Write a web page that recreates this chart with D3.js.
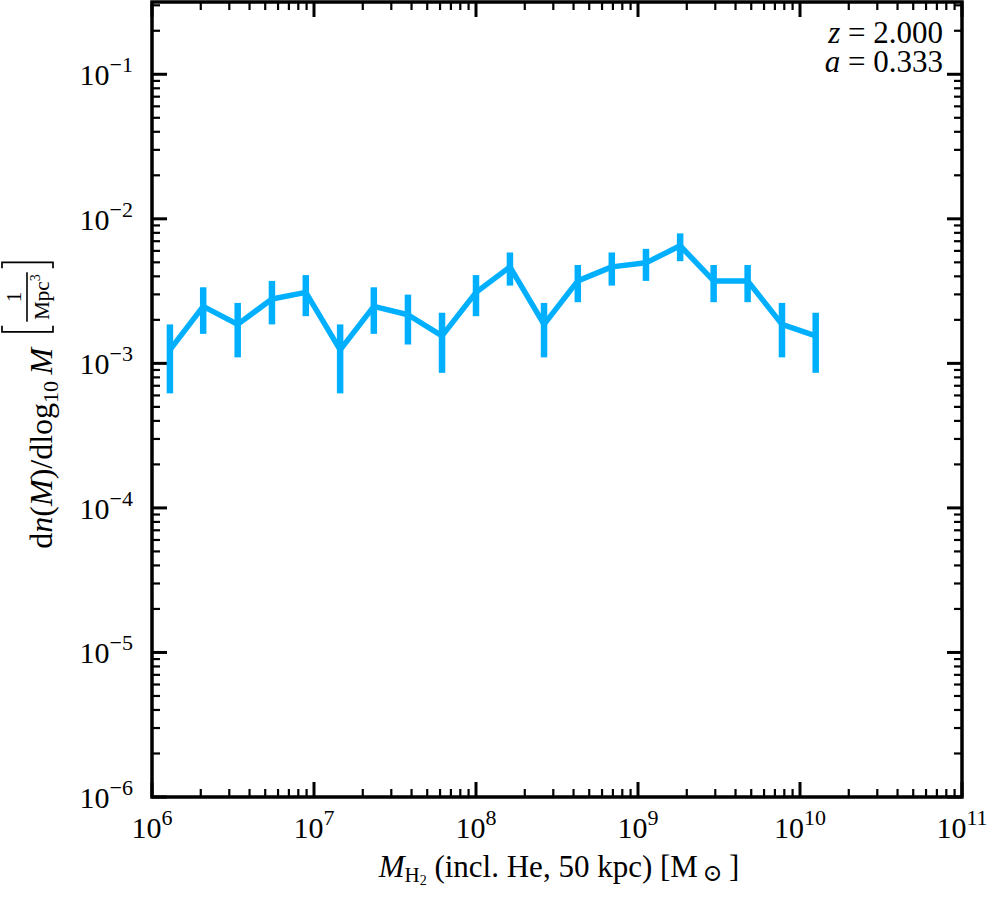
<!DOCTYPE html>
<html>
<head>
<meta charset="utf-8">
<script src="https://cdn.jsdelivr.net/npm/d3@7"></script>
<style>
  body { margin: 0; background: #fff; }
  svg text { font-family: "Liberation Serif", "DejaVu Serif", serif; fill: #000; }
</style>
</head>
<body>
<div id="chart"></div>
<script>
// bin centres (mass) and mass function values
const masses = [1.29e6, 2.07e6, 3.38e6, 5.5e6, 8.9e6, 1.45e7, 2.34e7, 3.8e7, 6.17e7, 1.0e8,
                1.62e8, 2.63e8, 4.25e8, 6.89e8, 1.12e9, 1.82e9, 2.93e9, 4.75e9, 7.74e9, 1.25e10];
const values = [1.24e-3, 2.48e-3, 1.86e-3, 2.79e-3, 3.10e-3, 1.24e-3, 2.48e-3, 2.17e-3, 1.55e-3, 3.10e-3,
                4.65e-3, 1.86e-3, 3.72e-3, 4.65e-3, 4.96e-3, 6.51e-3, 3.72e-3, 3.72e-3, 1.86e-3, 1.55e-3];
const errors = [0.62e-3, 0.88e-3, 0.76e-3, 0.93e-3, 0.98e-3, 0.62e-3, 0.88e-3, 0.82e-3, 0.69e-3, 0.98e-3,
                1.20e-3, 0.76e-3, 1.07e-3, 1.20e-3, 1.24e-3, 1.42e-3, 1.07e-3, 1.07e-3, 0.76e-3, 0.69e-3];

const xTickExps = [6, 7, 8, 9, 10, 11];
const yTickExps = [-6, -5, -4, -3, -2, -1];
const annotations = [["z", "2.000"], ["a", "0.333"]];

const W = 996, H = 900;
const margin = { top: 2, right: 34, bottom: 103, left: 152 };
const width = W - margin.left - margin.right,
  height = H - margin.top - margin.bottom;
const color = "#00b0ff";

const svg = d3.select("#chart").append("svg")
  .attr("width", W).attr("height", H);

const g = svg.append("g")
  .attr("transform", `translate(${margin.left}, ${margin.top})`);

const x = d3.scaleLog().domain([1e6, 1e11]).range([0, width]);
const y = d3.scaleLog().domain([1e-6, Math.pow(10, -0.5)]).range([height, 0]);

// minor + major tick positions
function logTicks(lo, hi) {
  const out = [];
  for (let e = lo; e < hi; e++) {
    for (let m = 1; m < 10; m++) out.push({ v: m * Math.pow(10, e), major: m === 1 });
  }
  out.push({ v: Math.pow(10, hi), major: true });
  return out;
}
const xt = logTicks(6, 11);
const yt = logTicks(-6, 0).filter(d => d.v <= y.domain()[1]);

const majLen = 15, minLen = 8;
const ticks = g.append("g").attr("stroke", "#000");
// bottom + top
ticks.selectAll(".xb").data(xt).join("line")
  .attr("x1", d => x(d.v)).attr("x2", d => x(d.v))
  .attr("y1", height).attr("y2", d => height - (d.major ? majLen : minLen))
  .attr("stroke-width", d => d.major ? 3 : 2.2);
ticks.selectAll(".xt").data(xt).join("line")
  .attr("x1", d => x(d.v)).attr("x2", d => x(d.v))
  .attr("y1", 0).attr("y2", d => (d.major ? majLen : minLen))
  .attr("stroke-width", d => d.major ? 3 : 2.2);
// left + right
ticks.selectAll(".yl").data(yt).join("line")
  .attr("y1", d => y(d.v)).attr("y2", d => y(d.v))
  .attr("x1", 0).attr("x2", d => (d.major ? majLen : minLen))
  .attr("stroke-width", d => d.major ? 3 : 2.2);
ticks.selectAll(".yr").data(yt).join("line")
  .attr("y1", d => y(d.v)).attr("y2", d => y(d.v))
  .attr("x1", width).attr("x2", d => width - (d.major ? majLen : minLen))
  .attr("stroke-width", d => d.major ? 3 : 2.2);

// frame
g.append("rect")
  .attr("width", width).attr("height", height)
  .attr("fill", "none").attr("stroke", "#000").attr("stroke-width", 3.5);

// tick labels
const xl = g.append("g").selectAll("text").data(xTickExps).join("text")
  .attr("x", d => x(Math.pow(10, d)))
  .attr("y", height + 41)
  .attr("text-anchor", "middle")
  .attr("font-size", 30);
xl.append("tspan").text("10");
xl.append("tspan").attr("dy", -13).attr("font-size", 22).text(d => d);

const yl = g.append("g").selectAll("text").data(yTickExps).join("text")
  .attr("x", -19)
  .attr("y", d => y(Math.pow(10, d)) + 11)
  .attr("text-anchor", "end")
  .attr("font-size", 30);
yl.append("tspan").text("10");
yl.append("tspan").attr("dy", -13).attr("font-size", 22).text(d => "\u2212" + Math.abs(d));

// error bars
g.append("g").selectAll("line").data(values).join("line")
  .attr("x1", (d, i) => x(masses[i])).attr("x2", (d, i) => x(masses[i]))
  .attr("y1", (d, i) => y(d - errors[i])).attr("y2", (d, i) => y(d + errors[i]))
  .attr("stroke", color).attr("stroke-width", 6.5);

// main line
g.append("path")
  .datum(values)
  .attr("d", d3.line().x((d, i) => x(masses[i])).y(d => y(d)))
  .attr("fill", "none")
  .attr("stroke", color)
  .attr("stroke-width", 5.5)
  .attr("stroke-linejoin", "round");

// annotation top right
annotations.forEach(function (a, i) {
  const t = svg.append("text")
    .attr("x", 943).attr("y", 43 + i * 29)
    .attr("text-anchor", "end").attr("font-size", 31);
  t.append("tspan").attr("font-style", "italic").text(a[0]);
  t.append("tspan").text(" = " + a[1]);
});

// x axis label
const xlab = svg.append("text")
  .attr("x", margin.left + width / 2 + 2).attr("y", 877)
  .attr("text-anchor", "middle").attr("font-size", 31);
xlab.append("tspan").attr("font-style", "italic").text("M");
xlab.append("tspan").attr("font-size", 21).attr("dy", 5).text("H");
xlab.append("tspan").attr("font-size", 14).attr("dy", 3).text("2");
xlab.append("tspan").attr("dy", -8).text(" (incl. He, 50 kpc) [M");
xlab.append("tspan").attr("font-size", 24).attr("dy", 4).text("\u2009\u2299");
xlab.append("tspan").attr("dy", -4).text("\u2009]");

// y axis label (rotated), with a bracketed fraction
const ylab = svg.append("g")
  .attr("transform", `translate(52, ${margin.top + height / 2}) rotate(-90)`);
const main = ylab.append("text").attr("font-size", 32).attr("x", 0).attr("y", 0);
main.append("tspan").text("d");
main.append("tspan").attr("font-style", "italic").text("n");
main.append("tspan").text("(");
main.append("tspan").attr("font-style", "italic").text("M");
main.append("tspan").text(")/dlog");
main.append("tspan").attr("font-size", 22).attr("dy", 6).text("10");
main.append("tspan").attr("dy", -6).attr("font-style", "italic").text("\u2009M");
const mainW = main.node().getComputedTextLength();

const frac = ylab.append("g");
const fx = mainW + 16;
const num = frac.append("text").attr("font-size", 21).attr("y", -31).attr("text-anchor", "middle").text("1");
const den = frac.append("text").attr("font-size", 21).attr("y", -3).attr("text-anchor", "middle");
den.append("tspan").text("Mpc");
den.append("tspan").attr("font-size", 14).attr("dy", -9).text("3");
const denW = den.node().getComputedTextLength();
const fw = denW + 4;
num.attr("x", fx + 10 + fw / 2);
den.attr("x", fx + 10 + fw / 2);
frac.append("line")
  .attr("x1", fx + 10).attr("x2", fx + 10 + fw)
  .attr("y1", -25).attr("y2", -25)
  .attr("stroke", "#000").attr("stroke-width", 1.6);
const bTop = -50, bBot = 1;
frac.append("path")
  .attr("d", `M${fx + 6},${bTop} H${fx} V${bBot} H${fx + 6}`)
  .attr("fill", "none").attr("stroke", "#000").attr("stroke-width", 1.7);
const rx = fx + 20 + fw;
frac.append("path")
  .attr("d", `M${rx - 6},${bTop} H${rx} V${bBot} H${rx - 6}`)
  .attr("fill", "none").attr("stroke", "#000").attr("stroke-width", 1.7);
const totalW = rx;
ylab.selectAll("text, line, path").attr("transform", `translate(${-totalW / 2 - 6}, 0)`);
</script>
</body>
</html>
